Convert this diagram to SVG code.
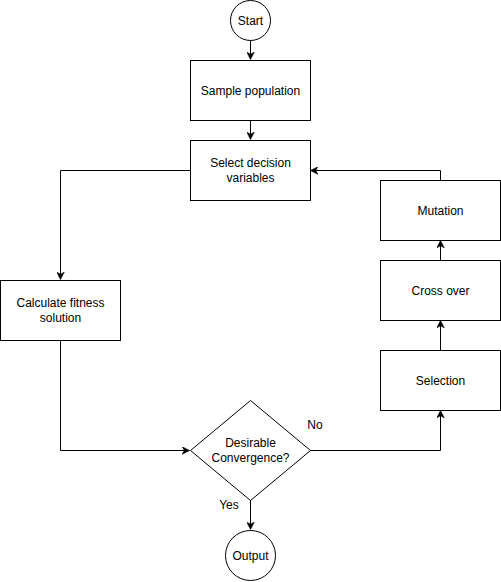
<svg xmlns="http://www.w3.org/2000/svg" width="501" height="582" viewBox="0 0 501 582">
<style>
.n{fill:#fff;stroke:#000;stroke-width:1}
.t{font-family:"Liberation Sans",Arial,sans-serif;font-size:12px;fill:#000;text-anchor:middle;dominant-baseline:central}
.e{fill:none;stroke:#000;stroke-width:1}
</style>
<defs>
<marker id="a" viewBox="0 0 10 10" refX="9" refY="5" markerWidth="8" markerHeight="8" markerUnits="userSpaceOnUse" orient="auto">
<path d="M0,0 L10,5 L0,10 L3,5 Z" fill="#000" stroke="#000" stroke-width="0.5"/>
</marker>
</defs>
<rect width="501" height="582" fill="#fff"/>
<g id="edges">
<path class="e" d="M250.5,40 V59" marker-end="url(#a)"/>
<path class="e" d="M250.5,120 V139" marker-end="url(#a)"/>
<path class="e" d="M190,170.5 H60.5 V279" marker-end="url(#a)"/>
<path class="e" d="M60.5,340 V450.5 H189" marker-end="url(#a)"/>
<path class="e" d="M250.5,500 V529" marker-end="url(#a)"/>
<path class="e" d="M310,450.5 H440.5 V411" marker-end="url(#a)"/>
<path class="e" d="M440.5,350 V321" marker-end="url(#a)"/>
<path class="e" d="M440.5,260 V241" marker-end="url(#a)"/>
<path class="e" d="M440.5,180 V170.5 H311" marker-end="url(#a)"/>
<text class="t" x="229" y="505">Yes</text>
<text class="t" x="315" y="425">No</text>
</g>
<g id="start"><circle class="n" cx="250.5" cy="20.5" r="20"/><text class="t" x="250.5" y="20.5">Start</text></g>
<g id="sample"><rect class="n" x="190.5" y="60.5" width="120" height="60"/><text class="t" x="250.5" y="90.5">Sample population</text></g>
<g id="select"><rect class="n" x="190.5" y="140.5" width="120" height="60"/><text class="t" x="250.5" y="163">Select decision</text><text class="t" x="250.5" y="178">variables</text></g>
<g id="calc"><rect class="n" x="0.5" y="280.5" width="120" height="60"/><text class="t" x="60.5" y="303">Calculate fitness</text><text class="t" x="60.5" y="318">solution</text></g>
<g id="decision"><path class="n" d="M250.5,400.5 L310.5,450.5 L250.5,500.5 L190.5,450.5 Z"/><text class="t" x="250.5" y="443">Desirable</text><text class="t" x="250.5" y="458">Convergence?</text></g>
<g id="output"><circle class="n" cx="250.5" cy="555.5" r="25"/><text class="t" x="250.5" y="555.5">Output</text></g>
<g id="selection"><rect class="n" x="380.5" y="350.5" width="120" height="60"/><text class="t" x="440.5" y="380.5">Selection</text></g>
<g id="crossover"><rect class="n" x="380.5" y="260.5" width="120" height="60"/><text class="t" x="440.5" y="290.5">Cross over</text></g>
<g id="mutation"><rect class="n" x="380.5" y="180.5" width="120" height="60"/><text class="t" x="440.5" y="210.5">Mutation</text></g>
</svg>
